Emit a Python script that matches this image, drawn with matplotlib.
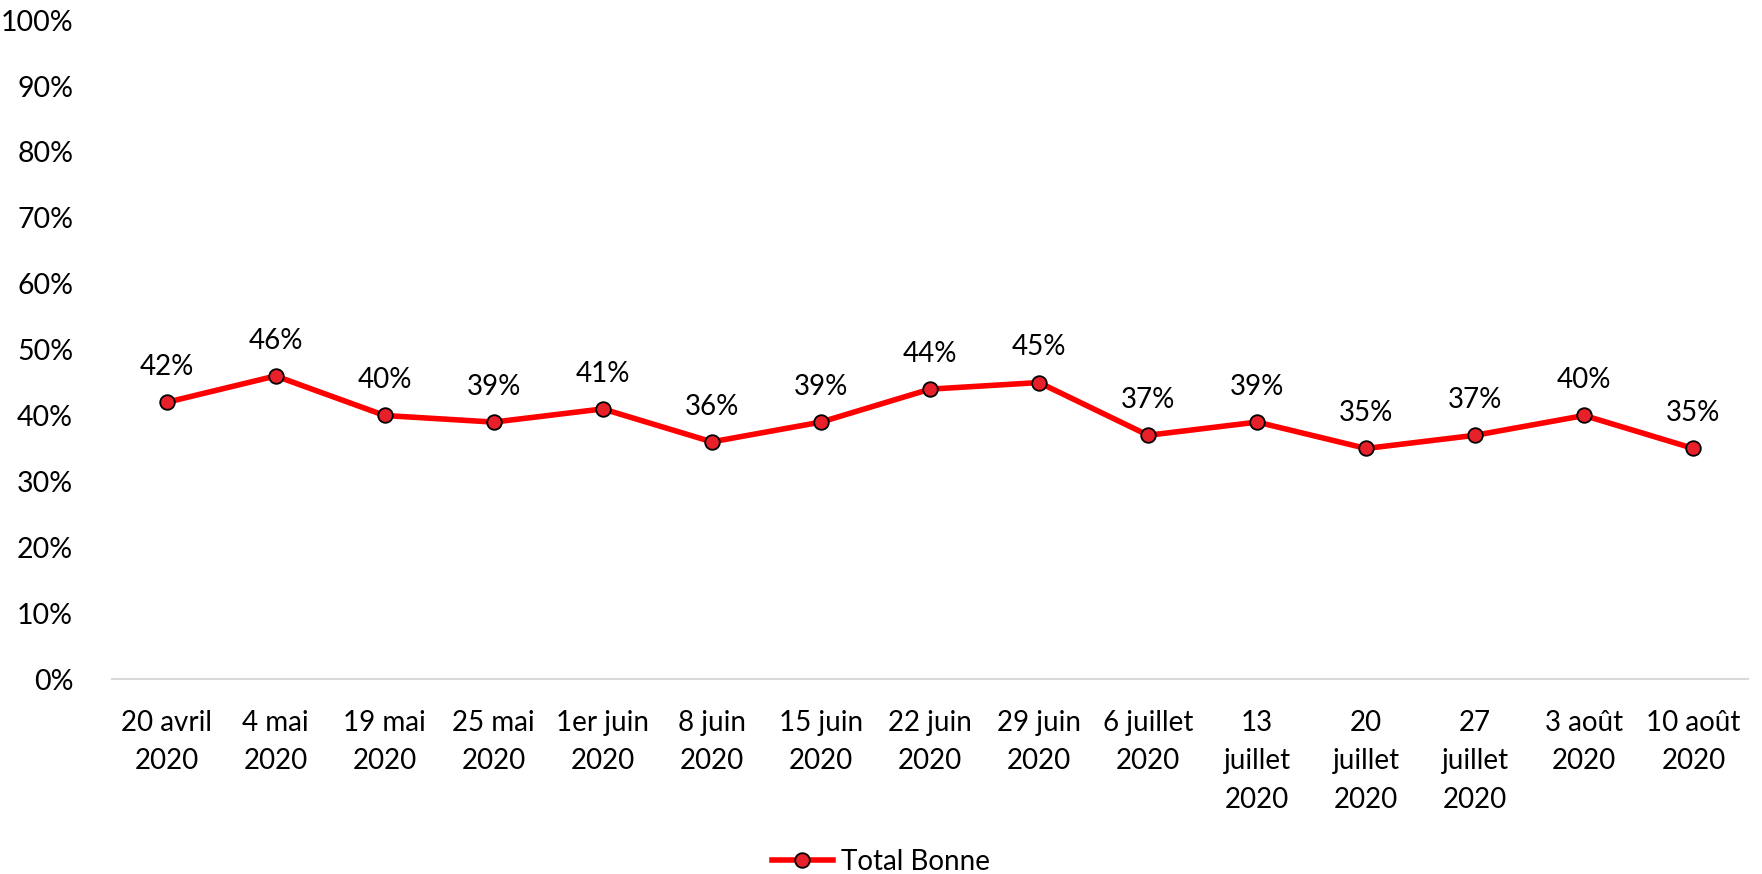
import matplotlib
matplotlib.use("Agg")
import matplotlib.pyplot as plt

plt.rcParams['font.family'] = ['Lato', 'DejaVu Sans']

dates = ["20 avril\n2020", "4 mai\n2020", "19 mai\n2020", "25 mai\n2020",
         "1er juin\n2020", "8 juin\n2020", "15 juin\n2020", "22 juin\n2020",
         "29 juin\n2020", "6 juillet\n2020", "13\njuillet\n2020",
         "20\njuillet\n2020", "27\njuillet\n2020", "3 août\n2020",
         "10 août\n2020"]
total_bonne = [42, 46, 40, 39, 41, 36, 39, 44, 45, 37, 39, 35, 37, 40, 35]
yticks = [0, 10, 20, 30, 40, 50, 60, 70, 80, 90, 100]

fig = plt.figure(figsize=(17.62, 8.74), dpi=100)
ax = fig.add_axes([0.0636, 0.223, 0.9284, 0.754])

x = list(range(len(dates)))
ax.plot(x, total_bonne, "-", color="#FF0000", linewidth=4,
        marker="o", markersize=10.5, markerfacecolor="#E8202A",
        markeredgecolor="black", markeredgewidth=1.3, label="Total Bonne",
        zorder=3)

for xi, v in zip(x, total_bonne):
    ax.annotate(f"{v}%", (xi, v), xytext=(0, 16), textcoords="offset points",
                ha="center", va="bottom", fontsize=20)

ax.set_xlim(-0.5, len(dates) - 0.5)
ax.set_ylim(0, 100)
ax.set_yticks(yticks)
ax.set_yticklabels([f"{t}%" for t in yticks], fontsize=20.5)
ax.set_xticks(x)
ax.set_xticklabels(dates, fontsize=20, va="top", linespacing=1.6)
ax.tick_params(axis="both", length=0)
ax.tick_params(axis="x", pad=22)
ax.tick_params(axis="y", pad=28)

for s in ["top", "right", "left"]:
    ax.spines[s].set_visible(False)
ax.spines["bottom"].set_color("#D9D9D9")
ax.spines["bottom"].set_linewidth(1.5)

fig.legend(loc="lower center", bbox_to_anchor=(0.5, -0.03), frameon=False,
           fontsize=20, handlelength=2.2, handletextpad=0.3)

plt.savefig("out.png", dpi=100)
